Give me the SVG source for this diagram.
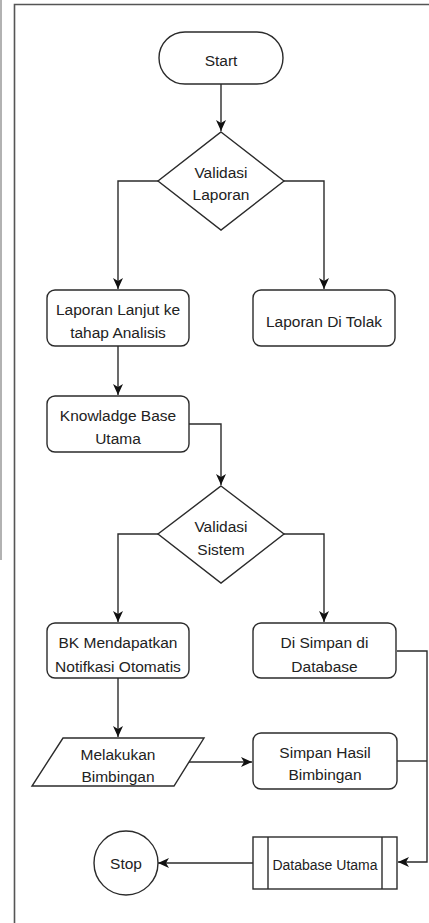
<svg xmlns="http://www.w3.org/2000/svg" width="429" height="923" viewBox="0 0 429 923">
<style>
.s{fill:#fff;stroke:#2b2b2b;stroke-width:1.4}
.c{fill:none;stroke:#2b2b2b;stroke-width:1.4}
.t{font-family:"Liberation Sans",Arial,sans-serif;font-size:15.5px;fill:#222;text-anchor:middle}
.f{fill:none;stroke:#555;stroke-width:1.6}
</style>
<defs>
<marker id="a" markerUnits="userSpaceOnUse" viewBox="0 0 12 12" refX="11" refY="6" markerWidth="12" markerHeight="12" orient="auto">
<path d="M0,1 L11,6 L0,11 L3,6 z" fill="#111"/>
</marker>
</defs>
<rect width="429" height="923" fill="#fff"/>
<g id="frame">
<line x1="1" y1="0" x2="1" y2="560" stroke="#999" stroke-width="1.5"/>
<path class="f" d="M14.5,923 V4.5 H429"/>
</g>
<g id="connectors">
<path class="c" d="M221,84 V131" marker-end="url(#a)"/>
<path class="c" d="M158,181 H118 V289" marker-end="url(#a)"/>
<path class="c" d="M284,181 H324 V289" marker-end="url(#a)"/>
<path class="c" d="M118,346 V395" marker-end="url(#a)"/>
<path class="c" d="M189,424 H221 V485" marker-end="url(#a)"/>
<path class="c" d="M158,534 H118 V622" marker-end="url(#a)"/>
<path class="c" d="M284,534 H324 V622" marker-end="url(#a)"/>
<path class="c" d="M118,678 V737" marker-end="url(#a)"/>
<path class="c" d="M189,762 H252" marker-end="url(#a)"/>
<path class="c" d="M397,651 H427 V862 H398" marker-end="url(#a)"/>
<path class="c" d="M397,761 H427"/>
<path class="c" d="M253,863 H158" marker-end="url(#a)"/>
</g>
<g id="start">
<rect class="s" x="159" y="32" width="124" height="52" rx="26"/>
<text class="t" x="221" y="66">Start</text>
</g>
<g id="validasi-laporan">
<path class="s" d="M221,132 L284,181 L221,230 L158,181 z"/>
<text class="t" x="221" y="178">Validasi</text>
<text class="t" x="221" y="200">Laporan</text>
</g>
<g id="laporan-lanjut">
<rect class="s" x="47" y="290" width="142" height="56" rx="8"/>
<text class="t" x="118" y="315">Laporan Lanjut ke</text>
<text class="t" x="118" y="338">tahap Analisis</text>
</g>
<g id="laporan-ditolak">
<rect class="s" x="253" y="290" width="142" height="56" rx="8"/>
<text class="t" x="324" y="327">Laporan Di Tolak</text>
</g>
<g id="knowladge">
<rect class="s" x="47" y="396" width="142" height="56" rx="8"/>
<text class="t" x="118" y="421">Knowladge Base</text>
<text class="t" x="118" y="444">Utama</text>
</g>
<g id="validasi-sistem">
<path class="s" d="M221,486 L284,534 L221,583 L158,534 z"/>
<text class="t" x="221" y="532">Validasi</text>
<text class="t" x="221" y="555">Sistem</text>
</g>
<g id="bk">
<rect class="s" x="47" y="623" width="142" height="55" rx="8"/>
<text class="t" x="118" y="648">BK Mendapatkan</text>
<text class="t" x="118" y="672">Notifkasi Otomatis</text>
</g>
<g id="disimpan">
<rect class="s" x="253" y="623" width="143" height="55" rx="8"/>
<text class="t" x="324.5" y="648">Di Simpan di</text>
<text class="t" x="324.5" y="672">Database</text>
</g>
<g id="melakukan">
<path class="s" d="M63,738 L204,738 L174,786 L32,786 z"/>
<text class="t" x="118" y="760">Melakukan</text>
<text class="t" x="118" y="782">Bimbingan</text>
</g>
<g id="simpan-hasil">
<rect class="s" x="253" y="733" width="144" height="56" rx="8"/>
<text class="t" x="325" y="758">Simpan Hasil</text>
<text class="t" x="325" y="780">Bimbingan</text>
</g>
<g id="database-utama">
<rect class="s" x="253" y="837" width="144" height="52"/>
<line class="c" x1="268" y1="837" x2="268" y2="889"/>
<line class="c" x1="382" y1="837" x2="382" y2="889"/>
<text class="t" x="325" y="870" style="font-size:14px">Database Utama</text>
</g>
<g id="stop">
<circle class="s" cx="126" cy="863" r="32"/>
<text class="t" x="126" y="869">Stop</text>
</g>
</svg>
